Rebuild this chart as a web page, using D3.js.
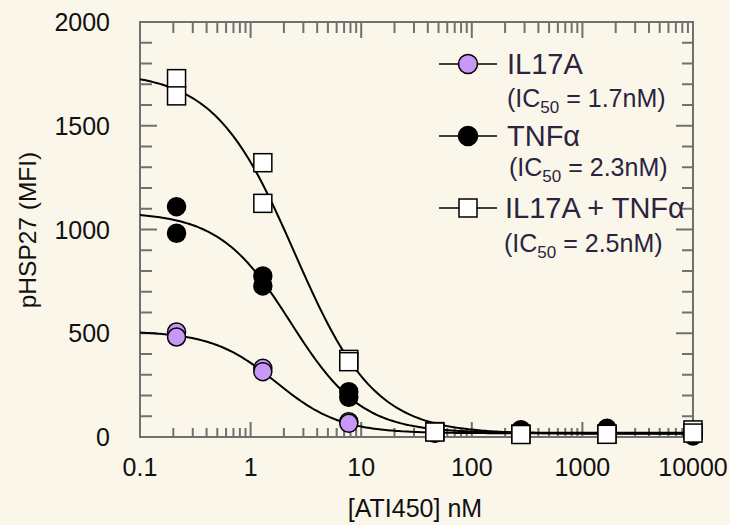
<!DOCTYPE html>
<html><head><meta charset="utf-8">
<script src="https://cdn.jsdelivr.net/npm/d3@7/dist/d3.min.js"></script>
<style>body{margin:0;background:#faf6e9;}svg{display:block;}text{font-family:"Liberation Sans",Arial,sans-serif;}</style>
</head><body><svg id="c" width="730" height="525"></svg>
<script>
// ---- data ----
const concentrations = [0.214, 1.29, 7.72, 46.3, 278, 1667, 10000];
const il17aRep1 = [506, 331, 74, 22, 18, 18, 20];
const il17aRep2 = [482, 315, 66, 20, 16, 17, 18];
const tnfRep1 = [1110, 776, 218, 26, 35, 42, 10];
const tnfRep2 = [982, 728, 191, 18, 30, 38, 5];
const comboRep1 = [1727, 1322, 374, 26, 14, 14, 34];
const comboRep2 = [1644, 1126, 363, 24, 12, 13, 19];
const seriesNames = ["IL17A", "TNFα", "IL17A + TNFα"];
const ic50Labels = ["1.7nM", "2.3nM", "2.5nM"];
// 4PL fit parameters: [top, bottom, IC50, hill]
const fitIL17A = [510, 18, 1.7, 1.5];
const fitTNF = [1085, 20, 2.3, 1.35];
const fitCombo = [1760, 15, 2.5, 1.2];
const xTickValues = [0.1, 1, 10, 100, 1000, 10000];
const xTickLabels = ["0.1", "1", "10", "100", "1000", "10000"];
const yTickValues = [0, 500, 1000, 1500, 2000];

const svg = d3.select("#c");
const L = 140, R = 693, T = 22, B = 437;
const x = d3.scaleLog().domain([0.1, 10000]).range([L, R]);
const y = d3.scaleLinear().domain([0, 2000]).range([B, T]);
const axisColor = "#707070";
const textColor = "#2b2340";
const purple = "#c898f6";

svg.append("rect").attr("width", 730).attr("height", 525).attr("fill", "#faf6e9");

// minor ticks
const minorX = [];
for (let e = -1; e < 4; e++) for (let k = 2; k <= 9; k++) minorX.push(k * Math.pow(10, e));
const minorY = d3.range(100, 2000, 100).filter(v => v % 500 !== 0);

const ax = svg.append("g").attr("stroke", axisColor).attr("stroke-width", 2);
ax.append("rect").attr("x", L).attr("y", T).attr("width", R - L).attr("height", B - T).attr("fill", "none");
minorX.forEach(v => {
  ax.append("line").attr("x1", x(v)).attr("x2", x(v)).attr("y1", B).attr("y2", B - 9);
  ax.append("line").attr("x1", x(v)).attr("x2", x(v)).attr("y1", T).attr("y2", T + 11);
});
xTickValues.slice(1, -1).forEach(v => {
  ax.append("line").attr("x1", x(v)).attr("x2", x(v)).attr("y1", B).attr("y2", B - 15);
  ax.append("line").attr("x1", x(v)).attr("x2", x(v)).attr("y1", T).attr("y2", T + 16);
});
minorY.forEach(v => {
  ax.append("line").attr("x1", L).attr("x2", L + 12).attr("y1", y(v)).attr("y2", y(v));
  ax.append("line").attr("x1", R).attr("x2", R - 11).attr("y1", y(v)).attr("y2", y(v));
});
yTickValues.slice(1, -1).forEach(v => {
  ax.append("line").attr("x1", L).attr("x2", L + 17).attr("y1", y(v)).attr("y2", y(v));
  ax.append("line").attr("x1", R).attr("x2", R - 17).attr("y1", y(v)).attr("y2", y(v));
});

// tick labels
svg.append("g").selectAll("text").data(xTickValues).join("text")
  .attr("x", d => x(d)).attr("y", 476).attr("text-anchor", "middle")
  .attr("font-size", 25).attr("fill", "#111").text((d, i) => xTickLabels[i]);
svg.append("g").selectAll("text").data(yTickValues).join("text")
  .attr("x", 110).attr("y", d => y(d)).attr("dy", "0.36em").attr("text-anchor", "end")
  .attr("font-size", 25).attr("fill", "#111").text(d => d);

svg.append("text").attr("transform", "translate(36,230) rotate(-90)").attr("text-anchor", "middle")
  .attr("font-size", 24.5).attr("fill", "#111").text("pHSP27 (MFI)");
svg.append("text").attr("x", 415).attr("y", 517).attr("text-anchor", "middle")
  .attr("font-size", 25).attr("fill", "#111").text("[ATI450] nM");

// curves
const clip = svg.append("clipPath").attr("id", "pc").append("rect")
  .attr("x", L).attr("y", T).attr("width", R - L).attr("height", B - T);
const fourPL = p => c => p[1] + (p[0] - p[1]) / (1 + Math.pow(c / p[2], p[3]));
const grid = d3.range(-1, 4.0001, 0.02).map(e => Math.pow(10, e));
const line = d3.line().x(d => x(d[0])).y(d => y(d[1]));
[fitIL17A, fitTNF, fitCombo].forEach(p => {
  const f = fourPL(p);
  svg.append("path").attr("clip-path", "url(#pc)").attr("d", line(grid.map(c => [c, f(c)])))
    .attr("fill", "none").attr("stroke", "#000").attr("stroke-width", 2);
});

// points
const pts = (a, b) => concentrations.map((c, i) => [c, a[i]]).concat(concentrations.map((c, i) => [c, b[i]]));
svg.append("g").selectAll("circle").data(pts(il17aRep1, il17aRep2)).join("circle")
  .attr("cx", d => x(d[0])).attr("cy", d => y(d[1])).attr("r", 9)
  .attr("fill", purple).attr("stroke", "#000").attr("stroke-width", 1.5);
svg.append("g").selectAll("circle").data(pts(tnfRep1, tnfRep2)).join("circle")
  .attr("cx", d => x(d[0])).attr("cy", d => y(d[1])).attr("r", 9)
  .attr("fill", "#000").attr("stroke", "#000").attr("stroke-width", 1.5);
svg.append("g").selectAll("rect").data(pts(comboRep1, comboRep2)).join("rect")
  .attr("x", d => x(d[0]) - 9).attr("y", d => y(d[1]) - 9).attr("width", 18).attr("height", 18)
  .attr("fill", "#fff").attr("stroke", "#000").attr("stroke-width", 1.5);

// legend
const lg = svg.append("g");
const legY = [64, 136, 208];
const legTextX = [507, 507, 505];
const icX = [507, 509, 504];
const icY = [107, 176, 252];
legY.forEach((ly, i) => {
  lg.append("line").attr("x1", 439).attr("x2", 497).attr("y1", ly).attr("y2", ly)
    .attr("stroke", "#000").attr("stroke-width", 1.5);
  if (i === 2) {
    lg.append("rect").attr("x", 459).attr("y", ly - 9).attr("width", 18).attr("height", 18)
      .attr("fill", "#fff").attr("stroke", "#000").attr("stroke-width", 1.5);
  } else {
    lg.append("circle").attr("cx", 468).attr("cy", ly).attr("r", 9.5)
      .attr("fill", i === 0 ? purple : "#000").attr("stroke", "#000").attr("stroke-width", 1.5);
  }
  lg.append("text").attr("x", legTextX[i]).attr("y", ly + 9.5).attr("font-size", 29)
    .attr("fill", textColor).text(seriesNames[i]);
  const t = lg.append("text").attr("x", icX[i]).attr("y", icY[i]).attr("font-size", 25).attr("fill", textColor);
  t.append("tspan").text("(IC");
  t.append("tspan").attr("font-size", 17).attr("dy", 6).text("50");
  t.append("tspan").attr("dy", -6).text(" = " + ic50Labels[i] + ")");
});
</script></body></html>
